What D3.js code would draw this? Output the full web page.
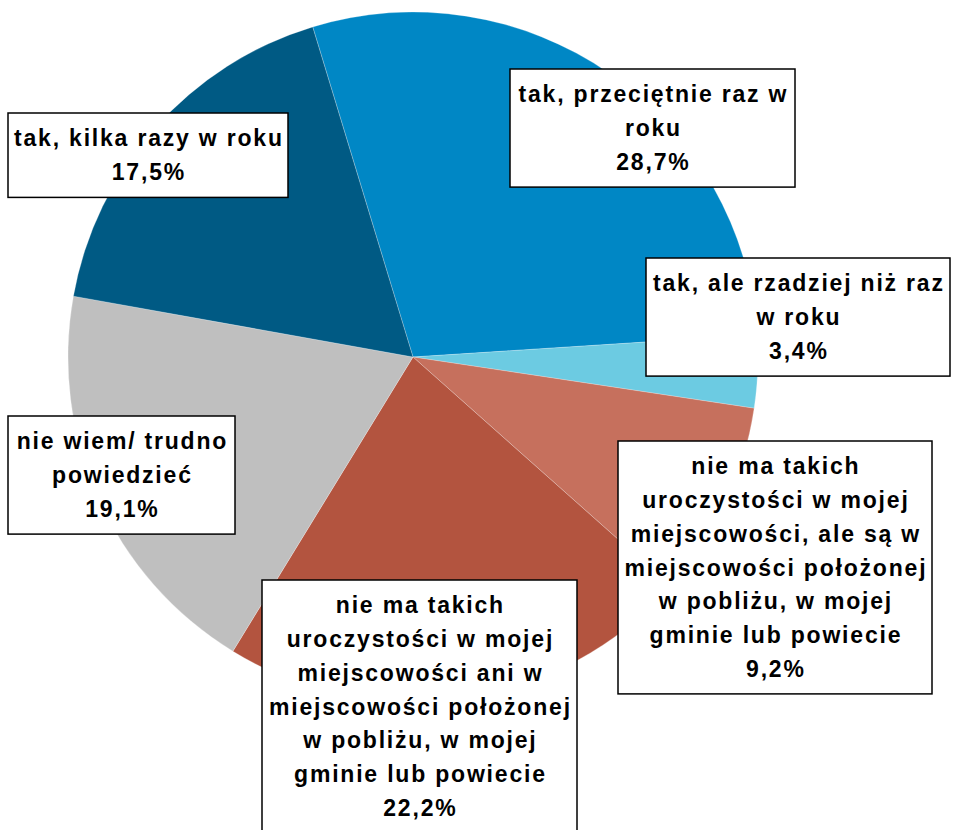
<!DOCTYPE html>
<html>
<head>
<meta charset="utf-8">
<title>Pie Chart</title>
<script src="https://cdnjs.cloudflare.com/ajax/libs/d3/7.8.5/d3.min.js"></script>
<style>
  body { margin: 0; background: #fff; }
  svg { display: block; }
</style>
</head>
<body>
<script>

// Categories (answers) in clockwise order, starting at the top
const categories = [
  "tak, przeciętnie raz w roku",
  "tak, ale rzadziej niż raz w roku",
  "nie ma takich uroczystości w mojej miejscowości, ale są w miejscowości położonej w pobliżu, w mojej gminie lub powiecie",
  "nie ma takich uroczystości w mojej miejscowości ani w miejscowości położonej w pobliżu, w mojej gminie lub powiecie",
  "nie wiem/ trudno powiedzieć",
  "tak, kilka razy w roku"
];

// Share of answers in percent
const shares = [28.7, 3.4, 9.2, 22.2, 19.1, 17.5];

// Slice colours
const colors = ["#0087c5", "#6ccbe2", "#c6705d", "#b3543f", "#bfbfbf", "#005a84"];

// SVG width and height
const w = 953;
const h = 830;

// Pie center and radius
const cx = 413;
const cy = 357;
const radius = 345;

// Label boxes placed by hand (left, top, width), same order as categories
const labelBoxes = [
  { x: 510, y: 69, width: 285 },
  { x: 646, y: 258, width: 304 },
  { x: 618, y: 441, width: 314 },
  { x: 262, y: 580, width: 315 },
  { x: 8, y: 416, width: 227 },
  { x: 8, y: 113, width: 280 }
];

const fontSize = 23;
const lineHeight = 33.7;
const boxPad = 8.5;

// Polish number format: 28,7%
const plFormat = d3.formatLocale({
  decimal: ",", thousands: " ", grouping: [3], currency: ["", " zł"]
}).format(".1f");

const svg = d3.select("body")
  .append("svg")
  .attr("width", w)
  .attr("height", h);

// Pie layout, first slice starts a bit left of 12 o'clock
const start = -16.9 * Math.PI / 180;
const pie = d3.pie()
  .sort(null)
  .startAngle(start)
  .endAngle(start + 2 * Math.PI);

const arc = d3.arc()
  .innerRadius(0)
  .outerRadius(radius);

const color = d3.scaleOrdinal()
  .domain(categories)
  .range(colors);

// Draw slices
svg.append("g")
  .attr("transform", `translate(${cx},${cy})`)
  .selectAll("path")
  .data(pie(shares))
  .enter()
  .append("path")
  .attr("d", arc)
  .attr("fill", (d, i) => color(categories[i]))
  .attr("stroke", "#ffffff")
  .attr("stroke-opacity", 0.4)
  .attr("stroke-width", 0.6);

// Label group
const labels = svg.append("g")
  .style("font-family", "'Liberation Sans', Arial, sans-serif")
  .style("font-weight", "bold")
  .style("font-size", fontSize + "px")
  .style("letter-spacing", "1.8px");

// Helper text to measure words for wrapping
const probe = labels.append("text").attr("x", -1000).attr("y", -1000);
function measure(str) {
  probe.text(str);
  return probe.node().getComputedTextLength();
}

// Break label into lines that fit the box
function wrap(str, maxWidth) {
  const words = str.split(" ");
  const lines = [];
  let line = words[0];
  for (let i = 1; i < words.length; i++) {
    const test = line + " " + words[i];
    if (measure(test) <= maxWidth) {
      line = test;
    } else {
      lines.push(line);
      line = words[i];
    }
  }
  lines.push(line);
  return lines;
}

categories.forEach(function(cat, i) {
  const box = labelBoxes[i];
  const lines = wrap(cat, box.width - 4);
  lines.push(plFormat(shares[i]) + "%");
  const boxH = lines.length * lineHeight + 2 * boxPad;

  const g = labels.append("g");

  g.append("rect")
    .attr("x", box.x)
    .attr("y", box.y)
    .attr("width", box.width)
    .attr("height", boxH)
    .attr("fill", "#ffffff")
    .attr("stroke", "#000000")
    .attr("stroke-width", 1.5);

  g.selectAll("text")
    .data(lines)
    .enter()
    .append("text")
    .attr("x", box.x + box.width / 2 + 0.9)
    .attr("y", (d, j) => box.y + boxPad + lineHeight * 0.74 + j * lineHeight)
    .attr("text-anchor", "middle")
    .attr("fill", "#000000")
    .text(d => d);
});

probe.remove();

</script>
</body>
</html>
